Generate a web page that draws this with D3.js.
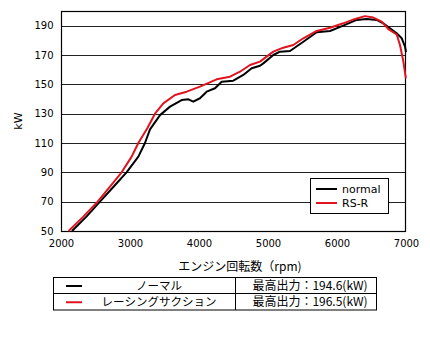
<!DOCTYPE html>
<html><head><meta charset="utf-8">
<script src="https://cdn.jsdelivr.net/npm/d3@7"></script>
<style>body{margin:0;background:#fff}svg{display:block}</style>
</head><body>
<svg id="c" width="430" height="355"></svg>
<script>
const rpmNormal = [2160,2372,2565,2758,2950,3121,3217,3290,3435,3580,3749,3846,3917,4014,4111,4232,4329,4497,4642,4763,4884,4932,5077,5174,5319,5512,5706,5899,6091,6285,6430,6575,6671,6768,6865,6938,6986,7000];
const kwNormal  = [50,60,70,80,90,100.7,110,119.3,129,134.8,139.3,139.8,138.2,140.5,145,147.3,151.8,152.5,156.4,161,162.7,164.3,170,172.3,172.7,179,185.5,186.4,190,193.9,194.6,193.9,191.6,188.2,184.8,181.4,175.7,172];
const rpmRSR = [2110,2324,2531,2710,2879,3024,3121,3251,3362,3483,3652,3821,4014,4256,4449,4594,4739,4884,5077,5222,5367,5512,5706,5899,6091,6261,6406,6526,6648,6744,6865,6913,6962,6998];
const kwRSR  = [50,59.8,70,80.2,90,100.7,110,120,130,137,142.7,145,148.4,153.4,155.2,158.6,163.2,165.5,172.3,175,176.8,181.4,186.4,188.6,191.6,194.6,196.5,195.5,192.7,187.7,184,176.8,165.5,154];
const xTicks = [2000,3000,4000,5000,6000,7000];
const yTicks = [50,70,90,110,130,150,170,190];
const seriesNames = ["normal","RS-R"];
const seriesColors = ["#000000","#e0141e"];
const tableNames = ["ノーマル","レーシングサクション"];
const tableValues = ["最高出力：194.6(kW)","最高出力：196.5(kW)"];

const svg = d3.select("#c");
const L=61, R=406, T=11, B=231;
const x = d3.scaleLinear().domain([2000,7000]).range([L,R]);
const y = d3.scaleLinear().domain([50,200]).range([B,T]);
const font = "'DejaVu Sans', Verdana, sans-serif";
const jfont = "'Noto Sans CJK JP', sans-serif";

// gridlines
svg.append("g").selectAll("line").data(yTicks).join("line")
  .attr("x1",L).attr("x2",R).attr("y1",d=>Math.round(y(d))+0.5).attr("y2",d=>Math.round(y(d))+0.5)
  .attr("stroke","#222").attr("stroke-width",1.2);

// y axis
const ya = svg.append("g").attr("transform",`translate(${L+0.5},0)`)
  .call(d3.axisLeft(y).tickValues(yTicks).tickSize(0).tickPadding(8));
ya.select(".domain").remove();
ya.selectAll("text").attr("font-family",font).attr("font-size",10).attr("fill","#000");
// x axis
const xa = svg.append("g").attr("transform",`translate(0,${B+0.5})`)
  .call(d3.axisBottom(x).tickValues(xTicks).tickFormat(d3.format("d")).tickSize(0).tickPadding(8));
xa.select(".domain").remove();
xa.selectAll("text").attr("font-family",font).attr("font-size",10).attr("fill","#000");

// frame
svg.append("rect").attr("x",L+0.5).attr("y",T+0.5).attr("width",R-L-1).attr("height",B-T)
  .attr("fill","none").attr("stroke","#000").attr("stroke-width",1.2);

// lines
const line = d3.line().x(d=>x(d[0])).y(d=>y(d[1]));
const dataN = rpmNormal.map((r,i)=>[r,kwNormal[i]]);
const dataR = rpmRSR.map((r,i)=>[r,kwRSR[i]]);
svg.append("path").datum(dataN).attr("d",line).attr("fill","none").attr("stroke",seriesColors[0]).attr("stroke-width",2).attr("stroke-linejoin","round");
svg.append("path").datum(dataR).attr("d",line).attr("fill","none").attr("stroke",seriesColors[1]).attr("stroke-width",2).attr("stroke-linejoin","round");

// legend in plot
const lg = svg.append("g");
lg.append("rect").attr("x",310.5).attr("y",178.5).attr("width",78).attr("height",35).attr("fill","#fff").attr("stroke","#000").attr("stroke-width",1);
seriesNames.forEach((n,i)=>{
  const yy = 189 + i*14;
  lg.append("line").attr("x1",316).attr("x2",337).attr("y1",yy).attr("y2",yy).attr("stroke",seriesColors[i]).attr("stroke-width",2);
  lg.append("text").attr("x",342).attr("y",yy+4).attr("font-family",font).attr("font-size",11).text(n);
});

// axis titles
svg.append("text").attr("transform","translate(22,121) rotate(-90)").attr("text-anchor","middle")
  .attr("font-family",font).attr("font-size",11).text("kW");
svg.append("text").attr("x",240).attr("y",271).attr("text-anchor","middle")
  .attr("font-family",jfont).attr("font-size",12).text("エンジン回転数（rpm)");

// table
const tb = svg.append("g");
const tL=53, tR=377, tT=277.5, tM=293.5, tB=310, tC=235.5;
tb.append("rect").attr("x",tL+0.5).attr("y",tT).attr("width",tR-tL-1).attr("height",tB-tT).attr("fill","none").attr("stroke","#000");
tb.append("line").attr("x1",tL).attr("x2",tR).attr("y1",tM).attr("y2",tM).attr("stroke","#000");
tb.append("line").attr("x1",tC).attr("x2",tC).attr("y1",tT).attr("y2",tB).attr("stroke","#000");
[0,1].forEach(i=>{
  const cy = (i===0? (tT+tM)/2 : (tM+tB)/2);
  tb.append("line").attr("x1",66).attr("x2",82).attr("y1",cy+0.5).attr("y2",cy+0.5).attr("stroke",seriesColors[i]).attr("stroke-width",2);
  tb.append("text").attr("x",159).attr("y",cy+4.5).attr("text-anchor","middle").attr("font-family",jfont).attr("font-size",11.5).text(tableNames[i]);
  tb.append("text").attr("x",310).attr("y",cy+4.5).attr("text-anchor","middle").attr("font-family",jfont).attr("font-size",12).text(tableValues[i]);
});
</script>
</body></html>
